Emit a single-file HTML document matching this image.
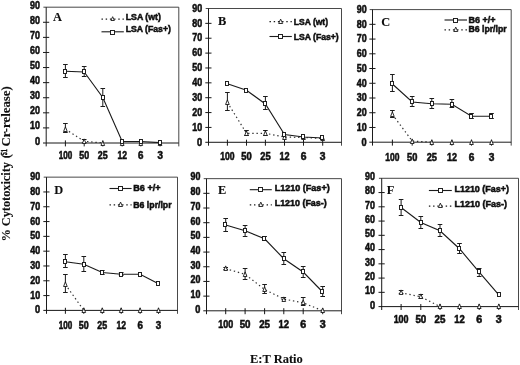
<!DOCTYPE html>
<html><head><meta charset="utf-8"><title>Cytotoxicity</title>
<style>
html,body{margin:0;padding:0;background:#fff;}
body{width:520px;height:365px;overflow:hidden;font-family:"Liberation Sans",sans-serif;}
svg{display:block;will-change:transform;}
text{fill:#111;stroke:#111;stroke-width:0.55px;}
text.sf{stroke-width:0.1px;}
</style></head><body>
<svg width="520" height="365" viewBox="0 0 520 365">
<defs><filter id="soft" x="0" y="0" width="100%" height="100%"><feGaussianBlur stdDeviation="0.35"/></filter></defs>
<rect width="520" height="365" fill="#fff"/>
<g filter="url(#soft)">
<g stroke="#1a1a1a" stroke-width="1.0" fill="none">
<path d="M43.4 7.2 H178.8 V146.4" stroke="#333" stroke-width="0.9"/>
<line x1="46.2" y1="7.2" x2="46.2" y2="146.4" />
<line x1="43" y1="127.91" x2="49.2" y2="127.91" />
<line x1="43" y1="112.82" x2="49.2" y2="112.82" />
<line x1="43" y1="97.73" x2="49.2" y2="97.73" />
<line x1="43" y1="82.64" x2="49.2" y2="82.64" />
<line x1="43" y1="67.56" x2="49.2" y2="67.56" />
<line x1="43" y1="52.47" x2="49.2" y2="52.47" />
<line x1="43" y1="37.38" x2="49.2" y2="37.38" />
<line x1="43" y1="22.29" x2="49.2" y2="22.29" />
<line x1="65.4" y1="140.4" x2="65.4" y2="146.4" />
<line x1="84.2" y1="140.4" x2="84.2" y2="146.4" />
<line x1="102.8" y1="140.4" x2="102.8" y2="146.4" />
<line x1="122.2" y1="140.4" x2="122.2" y2="146.4" />
<line x1="140.8" y1="140.4" x2="140.8" y2="146.4" />
<line x1="160.1" y1="140.4" x2="160.1" y2="146.4" />
</g>
<text x="34.9" y="144.5" font-family="'Liberation Sans', sans-serif" font-size="10" font-weight="bold" text-anchor="start" textLength="5.1" lengthAdjust="spacingAndGlyphs" >0</text>
<text x="30.1" y="129.41" font-family="'Liberation Sans', sans-serif" font-size="10" font-weight="bold" text-anchor="start" textLength="9.9" lengthAdjust="spacingAndGlyphs" >10</text>
<text x="30.1" y="114.32" font-family="'Liberation Sans', sans-serif" font-size="10" font-weight="bold" text-anchor="start" textLength="9.9" lengthAdjust="spacingAndGlyphs" >20</text>
<text x="30.1" y="99.23" font-family="'Liberation Sans', sans-serif" font-size="10" font-weight="bold" text-anchor="start" textLength="9.9" lengthAdjust="spacingAndGlyphs" >30</text>
<text x="30.1" y="84.14" font-family="'Liberation Sans', sans-serif" font-size="10" font-weight="bold" text-anchor="start" textLength="9.9" lengthAdjust="spacingAndGlyphs" >40</text>
<text x="30.1" y="69.06" font-family="'Liberation Sans', sans-serif" font-size="10" font-weight="bold" text-anchor="start" textLength="9.9" lengthAdjust="spacingAndGlyphs" >50</text>
<text x="30.1" y="53.97" font-family="'Liberation Sans', sans-serif" font-size="10" font-weight="bold" text-anchor="start" textLength="9.9" lengthAdjust="spacingAndGlyphs" >60</text>
<text x="30.1" y="38.88" font-family="'Liberation Sans', sans-serif" font-size="10" font-weight="bold" text-anchor="start" textLength="9.9" lengthAdjust="spacingAndGlyphs" >70</text>
<text x="30.1" y="23.79" font-family="'Liberation Sans', sans-serif" font-size="10" font-weight="bold" text-anchor="start" textLength="9.9" lengthAdjust="spacingAndGlyphs" >80</text>
<text x="30.1" y="8.7" font-family="'Liberation Sans', sans-serif" font-size="10" font-weight="bold" text-anchor="start" textLength="9.9" lengthAdjust="spacingAndGlyphs" >90</text>
<text x="58.65" y="159.3" font-family="'Liberation Sans', sans-serif" font-size="10" font-weight="bold" text-anchor="start" textLength="13.5" lengthAdjust="spacingAndGlyphs" >100</text>
<text x="79.27" y="159.3" font-family="'Liberation Sans', sans-serif" font-size="10" font-weight="bold" text-anchor="start" textLength="9.85" lengthAdjust="spacingAndGlyphs" >50</text>
<text x="97.87" y="159.3" font-family="'Liberation Sans', sans-serif" font-size="10" font-weight="bold" text-anchor="start" textLength="9.85" lengthAdjust="spacingAndGlyphs" >25</text>
<text x="117.41" y="159.3" font-family="'Liberation Sans', sans-serif" font-size="10" font-weight="bold" text-anchor="start" textLength="9.59" lengthAdjust="spacingAndGlyphs" >12</text>
<text x="138.09" y="159.3" font-family="'Liberation Sans', sans-serif" font-size="10" font-weight="bold" text-anchor="start" textLength="5.42" lengthAdjust="spacingAndGlyphs" >6</text>
<text x="157.39" y="159.3" font-family="'Liberation Sans', sans-serif" font-size="10" font-weight="bold" text-anchor="start" textLength="5.42" lengthAdjust="spacingAndGlyphs" >3</text>
<text x="53" y="20.8" font-family="'Liberation Serif', sans-serif" font-size="12.4" font-weight="bold" text-anchor="start" class="sf">A</text>
<clipPath id="cpA"><rect x="46.2" y="7.2" width="132.6" height="136.3"/></clipPath>
<polyline points="65.4,129.1 84.2,141.2 102.8,143" fill="none" stroke="#333" stroke-width="1.2" stroke-dasharray="1.4 2.8" clip-path="url(#cpA)"/>
<polyline points="65.4,71.25 84.2,72 102.8,97.5 122.2,141.5 140.8,141.5 160.1,142.6" fill="none" stroke="#1a1a1a" stroke-width="1.1"/>
<line x1="43" y1="143" x2="178.8" y2="143" stroke="#1a1a1a" stroke-width="1.0"/>
<g stroke="#1a1a1a" stroke-width="1">
<line x1="65.4" y1="123.5" x2="65.4" y2="132.5" />
<line x1="63.1" y1="123.5" x2="67.7" y2="123.5" />
<line x1="63.1" y1="132.5" x2="67.7" y2="132.5" />
<line x1="84.2" y1="139.5" x2="84.2" y2="142.5" />
<line x1="81.9" y1="139.5" x2="86.5" y2="139.5" />
<line x1="81.9" y1="142.5" x2="86.5" y2="142.5" />
<line x1="65.4" y1="64.5" x2="65.4" y2="77.5" />
<line x1="63.1" y1="64.5" x2="67.7" y2="64.5" />
<line x1="63.1" y1="77.5" x2="67.7" y2="77.5" />
<line x1="84.2" y1="66.5" x2="84.2" y2="76.5" />
<line x1="81.9" y1="66.5" x2="86.5" y2="66.5" />
<line x1="81.9" y1="76.5" x2="86.5" y2="76.5" />
<line x1="102.8" y1="88.5" x2="102.8" y2="106.5" />
<line x1="100.5" y1="88.5" x2="105.1" y2="88.5" />
<line x1="100.5" y1="106.5" x2="105.1" y2="106.5" />
</g>
<path d="M65.4 126.9 L67.24 131.5 L63.56 131.5 Z" fill="#fff" stroke="#1a1a1a" stroke-width="0.9"/>
<path d="M84.2 138.9 L86.04 143.5 L82.36 143.5 Z" fill="#fff" stroke="#1a1a1a" stroke-width="0.9"/>
<path d="M102.8 140.9 L104.64 145.5 L100.96 145.5 Z" fill="#fff" stroke="#1a1a1a" stroke-width="0.9"/>
<path d="M122.2 140.9 L124.04 145.5 L120.36 145.5 Z" fill="#fff" stroke="#1a1a1a" stroke-width="0.9"/>
<path d="M140.8 140.9 L142.64 145.5 L138.96 145.5 Z" fill="#fff" stroke="#1a1a1a" stroke-width="0.9"/>
<path d="M160.1 140.9 L161.94 145.5 L158.26 145.5 Z" fill="#fff" stroke="#1a1a1a" stroke-width="0.9"/>
<rect x="63.5" y="69.5" width="3" height="4" fill="#fff" stroke="#1a1a1a" stroke-width="0.95"/>
<rect x="82.5" y="69.5" width="3" height="4" fill="#fff" stroke="#1a1a1a" stroke-width="0.95"/>
<rect x="101.5" y="95.5" width="3" height="4" fill="#fff" stroke="#1a1a1a" stroke-width="0.95"/>
<rect x="120.5" y="139.5" width="3" height="4" fill="#fff" stroke="#1a1a1a" stroke-width="0.95"/>
<rect x="139.5" y="139.5" width="3" height="4" fill="#fff" stroke="#1a1a1a" stroke-width="0.95"/>
<rect x="158.5" y="140.5" width="3" height="4" fill="#fff" stroke="#1a1a1a" stroke-width="0.95"/>
<line x1="101.5" y1="19.1" x2="123.8" y2="19.1" stroke="#1a1a1a" stroke-width="1.2" stroke-dasharray="1.4 2.8"/>
<path d="M112.65 16.7 L114.35 20.5 L110.95 20.5 Z" fill="#fff" stroke="#1a1a1a" stroke-width="0.9"/>
<text x="125.7" y="19.9" font-family="'Liberation Sans', sans-serif" font-size="9.4" font-weight="bold" text-anchor="start" textLength="35.2" lengthAdjust="spacingAndGlyphs" >LSA (wt)</text>
<line x1="101.5" y1="31.8" x2="123.8" y2="31.8" stroke="#1a1a1a" stroke-width="1.1"/>
<rect x="110.5" y="30.5" width="4" height="4" fill="#fff" stroke="#1a1a1a" stroke-width="0.95"/>
<text x="125.7" y="32.3" font-family="'Liberation Sans', sans-serif" font-size="9.4" font-weight="bold" text-anchor="start" textLength="45.2" lengthAdjust="spacingAndGlyphs" >LSA (Fas+)</text>
<g stroke="#1a1a1a" stroke-width="1.0" fill="none">
<path d="M205.7 8.5 H341.5 V145.7" stroke="#333" stroke-width="0.9"/>
<line x1="208.5" y1="8.5" x2="208.5" y2="145.7" />
<line x1="205.3" y1="127.43" x2="211.5" y2="127.43" />
<line x1="205.3" y1="112.57" x2="211.5" y2="112.57" />
<line x1="205.3" y1="97.7" x2="211.5" y2="97.7" />
<line x1="205.3" y1="82.83" x2="211.5" y2="82.83" />
<line x1="205.3" y1="67.97" x2="211.5" y2="67.97" />
<line x1="205.3" y1="53.1" x2="211.5" y2="53.1" />
<line x1="205.3" y1="38.23" x2="211.5" y2="38.23" />
<line x1="205.3" y1="23.37" x2="211.5" y2="23.37" />
<line x1="227.4" y1="139.7" x2="227.4" y2="145.7" />
<line x1="246.5" y1="139.7" x2="246.5" y2="145.7" />
<line x1="265.4" y1="139.7" x2="265.4" y2="145.7" />
<line x1="284.5" y1="139.7" x2="284.5" y2="145.7" />
<line x1="303.5" y1="139.7" x2="303.5" y2="145.7" />
<line x1="322.7" y1="139.7" x2="322.7" y2="145.7" />
</g>
<text x="197.1" y="145.5" font-family="'Liberation Sans', sans-serif" font-size="10" font-weight="bold" text-anchor="start" textLength="5.1" lengthAdjust="spacingAndGlyphs" >0</text>
<text x="192.3" y="130.63" font-family="'Liberation Sans', sans-serif" font-size="10" font-weight="bold" text-anchor="start" textLength="9.9" lengthAdjust="spacingAndGlyphs" >10</text>
<text x="192.3" y="115.77" font-family="'Liberation Sans', sans-serif" font-size="10" font-weight="bold" text-anchor="start" textLength="9.9" lengthAdjust="spacingAndGlyphs" >20</text>
<text x="192.3" y="100.9" font-family="'Liberation Sans', sans-serif" font-size="10" font-weight="bold" text-anchor="start" textLength="9.9" lengthAdjust="spacingAndGlyphs" >30</text>
<text x="192.3" y="86.03" font-family="'Liberation Sans', sans-serif" font-size="10" font-weight="bold" text-anchor="start" textLength="9.9" lengthAdjust="spacingAndGlyphs" >40</text>
<text x="192.3" y="71.17" font-family="'Liberation Sans', sans-serif" font-size="10" font-weight="bold" text-anchor="start" textLength="9.9" lengthAdjust="spacingAndGlyphs" >50</text>
<text x="192.3" y="56.3" font-family="'Liberation Sans', sans-serif" font-size="10" font-weight="bold" text-anchor="start" textLength="9.9" lengthAdjust="spacingAndGlyphs" >60</text>
<text x="192.3" y="41.43" font-family="'Liberation Sans', sans-serif" font-size="10" font-weight="bold" text-anchor="start" textLength="9.9" lengthAdjust="spacingAndGlyphs" >70</text>
<text x="192.3" y="26.57" font-family="'Liberation Sans', sans-serif" font-size="10" font-weight="bold" text-anchor="start" textLength="9.9" lengthAdjust="spacingAndGlyphs" >80</text>
<text x="192.3" y="11.7" font-family="'Liberation Sans', sans-serif" font-size="10" font-weight="bold" text-anchor="start" textLength="9.9" lengthAdjust="spacingAndGlyphs" >90</text>
<text x="220.25" y="160.3" font-family="'Liberation Sans', sans-serif" font-size="10" font-weight="bold" text-anchor="start" textLength="14.3" lengthAdjust="spacingAndGlyphs" >100</text>
<text x="241.29" y="160.3" font-family="'Liberation Sans', sans-serif" font-size="10" font-weight="bold" text-anchor="start" textLength="10.42" lengthAdjust="spacingAndGlyphs" >50</text>
<text x="260.19" y="160.3" font-family="'Liberation Sans', sans-serif" font-size="10" font-weight="bold" text-anchor="start" textLength="10.42" lengthAdjust="spacingAndGlyphs" >25</text>
<text x="279.43" y="160.3" font-family="'Liberation Sans', sans-serif" font-size="10" font-weight="bold" text-anchor="start" textLength="10.14" lengthAdjust="spacingAndGlyphs" >12</text>
<text x="300.65" y="160.3" font-family="'Liberation Sans', sans-serif" font-size="10" font-weight="bold" text-anchor="start" textLength="5.71" lengthAdjust="spacingAndGlyphs" >6</text>
<text x="319.85" y="160.3" font-family="'Liberation Sans', sans-serif" font-size="10" font-weight="bold" text-anchor="start" textLength="5.71" lengthAdjust="spacingAndGlyphs" >3</text>
<text x="218" y="25.1" font-family="'Liberation Serif', sans-serif" font-size="12.4" font-weight="bold" text-anchor="start" class="sf">B</text>
<clipPath id="cpB"><rect x="208.5" y="8.5" width="133" height="134.3"/></clipPath>
<polyline points="227.4,102.5 246.5,133.3 265.4,133.3 284.5,137 303.5,137.5 322.7,138.5" fill="none" stroke="#333" stroke-width="1.2" stroke-dasharray="1.4 2.8" clip-path="url(#cpB)"/>
<polyline points="227.4,83.75 246.5,90.25 265.4,104 284.5,134.5 303.5,137 322.7,138" fill="none" stroke="#1a1a1a" stroke-width="1.1"/>
<line x1="205.3" y1="142.3" x2="341.5" y2="142.3" stroke="#1a1a1a" stroke-width="1.0"/>
<g stroke="#1a1a1a" stroke-width="1">
<line x1="227.4" y1="92.5" x2="227.4" y2="110.5" />
<line x1="225.1" y1="92.5" x2="229.7" y2="92.5" />
<line x1="225.1" y1="110.5" x2="229.7" y2="110.5" />
<line x1="246.5" y1="130.5" x2="246.5" y2="135.5" />
<line x1="244.2" y1="130.5" x2="248.8" y2="130.5" />
<line x1="244.2" y1="135.5" x2="248.8" y2="135.5" />
<line x1="265.4" y1="130.5" x2="265.4" y2="135.5" />
<line x1="263.1" y1="130.5" x2="267.7" y2="130.5" />
<line x1="263.1" y1="135.5" x2="267.7" y2="135.5" />
<line x1="265.4" y1="96.5" x2="265.4" y2="109.5" />
<line x1="263.1" y1="96.5" x2="267.7" y2="96.5" />
<line x1="263.1" y1="109.5" x2="267.7" y2="109.5" />
</g>
<path d="M227.4 99.9 L229.24 104.5 L225.56 104.5 Z" fill="#fff" stroke="#1a1a1a" stroke-width="0.9"/>
<path d="M246.5 130.9 L248.34 135.5 L244.66 135.5 Z" fill="#fff" stroke="#1a1a1a" stroke-width="0.9"/>
<path d="M265.4 130.9 L267.24 135.5 L263.56 135.5 Z" fill="#fff" stroke="#1a1a1a" stroke-width="0.9"/>
<path d="M284.5 134.9 L286.34 139.5 L282.66 139.5 Z" fill="#fff" stroke="#1a1a1a" stroke-width="0.9"/>
<path d="M303.5 134.9 L305.34 139.5 L301.66 139.5 Z" fill="#fff" stroke="#1a1a1a" stroke-width="0.9"/>
<path d="M322.7 135.9 L324.54 140.5 L320.86 140.5 Z" fill="#fff" stroke="#1a1a1a" stroke-width="0.9"/>
<rect x="225.5" y="81.5" width="3" height="4" fill="#fff" stroke="#1a1a1a" stroke-width="0.95"/>
<rect x="244.5" y="88.5" width="3" height="4" fill="#fff" stroke="#1a1a1a" stroke-width="0.95"/>
<rect x="263.5" y="101.5" width="3" height="4" fill="#fff" stroke="#1a1a1a" stroke-width="0.95"/>
<rect x="282.5" y="132.5" width="3" height="4" fill="#fff" stroke="#1a1a1a" stroke-width="0.95"/>
<rect x="301.5" y="134.5" width="3" height="4" fill="#fff" stroke="#1a1a1a" stroke-width="0.95"/>
<rect x="320.5" y="135.5" width="3" height="4" fill="#fff" stroke="#1a1a1a" stroke-width="0.95"/>
<line x1="269.5" y1="21.7" x2="291.8" y2="21.7" stroke="#1a1a1a" stroke-width="1.2" stroke-dasharray="1.4 2.8"/>
<path d="M280.65 19.1 L282.65 23.5 L278.65 23.5 Z" fill="#fff" stroke="#1a1a1a" stroke-width="0.9"/>
<text x="293.75" y="24.8" font-family="'Liberation Sans', sans-serif" font-size="9.4" font-weight="bold" text-anchor="start" textLength="34.3" lengthAdjust="spacingAndGlyphs" >LSA (wt)</text>
<line x1="269.5" y1="36.5" x2="291.8" y2="36.5" stroke="#1a1a1a" stroke-width="1.1"/>
<rect x="278.5" y="34.5" width="4" height="4" fill="#fff" stroke="#1a1a1a" stroke-width="0.95"/>
<text x="293.75" y="39.8" font-family="'Liberation Sans', sans-serif" font-size="9.4" font-weight="bold" text-anchor="start" textLength="45" lengthAdjust="spacingAndGlyphs" >LSA (Fas+)</text>
<g stroke="#1a1a1a" stroke-width="1.0" fill="none">
<path d="M369.7 9.6 H511.2 V145.6" stroke="#333" stroke-width="0.9"/>
<line x1="372.5" y1="9.6" x2="372.5" y2="145.6" />
<line x1="369.3" y1="127.47" x2="375.5" y2="127.47" />
<line x1="369.3" y1="112.73" x2="375.5" y2="112.73" />
<line x1="369.3" y1="98" x2="375.5" y2="98" />
<line x1="369.3" y1="83.27" x2="375.5" y2="83.27" />
<line x1="369.3" y1="68.53" x2="375.5" y2="68.53" />
<line x1="369.3" y1="53.8" x2="375.5" y2="53.8" />
<line x1="369.3" y1="39.07" x2="375.5" y2="39.07" />
<line x1="369.3" y1="24.33" x2="375.5" y2="24.33" />
<line x1="392.4" y1="139.6" x2="392.4" y2="145.6" />
<line x1="412.2" y1="139.6" x2="412.2" y2="145.6" />
<line x1="431.8" y1="139.6" x2="431.8" y2="145.6" />
<line x1="451.9" y1="139.6" x2="451.9" y2="145.6" />
<line x1="471.5" y1="139.6" x2="471.5" y2="145.6" />
<line x1="491.5" y1="139.6" x2="491.5" y2="145.6" />
</g>
<text x="361.5" y="145.6" font-family="'Liberation Sans', sans-serif" font-size="10" font-weight="bold" text-anchor="start" textLength="5.1" lengthAdjust="spacingAndGlyphs" >0</text>
<text x="356.7" y="130.87" font-family="'Liberation Sans', sans-serif" font-size="10" font-weight="bold" text-anchor="start" textLength="9.9" lengthAdjust="spacingAndGlyphs" >10</text>
<text x="356.7" y="116.13" font-family="'Liberation Sans', sans-serif" font-size="10" font-weight="bold" text-anchor="start" textLength="9.9" lengthAdjust="spacingAndGlyphs" >20</text>
<text x="356.7" y="101.4" font-family="'Liberation Sans', sans-serif" font-size="10" font-weight="bold" text-anchor="start" textLength="9.9" lengthAdjust="spacingAndGlyphs" >30</text>
<text x="356.7" y="86.67" font-family="'Liberation Sans', sans-serif" font-size="10" font-weight="bold" text-anchor="start" textLength="9.9" lengthAdjust="spacingAndGlyphs" >40</text>
<text x="356.7" y="71.93" font-family="'Liberation Sans', sans-serif" font-size="10" font-weight="bold" text-anchor="start" textLength="9.9" lengthAdjust="spacingAndGlyphs" >50</text>
<text x="356.7" y="57.2" font-family="'Liberation Sans', sans-serif" font-size="10" font-weight="bold" text-anchor="start" textLength="9.9" lengthAdjust="spacingAndGlyphs" >60</text>
<text x="356.7" y="42.47" font-family="'Liberation Sans', sans-serif" font-size="10" font-weight="bold" text-anchor="start" textLength="9.9" lengthAdjust="spacingAndGlyphs" >70</text>
<text x="356.7" y="27.73" font-family="'Liberation Sans', sans-serif" font-size="10" font-weight="bold" text-anchor="start" textLength="9.9" lengthAdjust="spacingAndGlyphs" >80</text>
<text x="356.7" y="13" font-family="'Liberation Sans', sans-serif" font-size="10" font-weight="bold" text-anchor="start" textLength="9.9" lengthAdjust="spacingAndGlyphs" >90</text>
<text x="385.35" y="160.6" font-family="'Liberation Sans', sans-serif" font-size="10" font-weight="bold" text-anchor="start" textLength="14.1" lengthAdjust="spacingAndGlyphs" >100</text>
<text x="407.06" y="160.6" font-family="'Liberation Sans', sans-serif" font-size="10" font-weight="bold" text-anchor="start" textLength="10.28" lengthAdjust="spacingAndGlyphs" >50</text>
<text x="426.66" y="160.6" font-family="'Liberation Sans', sans-serif" font-size="10" font-weight="bold" text-anchor="start" textLength="10.28" lengthAdjust="spacingAndGlyphs" >25</text>
<text x="446.9" y="160.6" font-family="'Liberation Sans', sans-serif" font-size="10" font-weight="bold" text-anchor="start" textLength="10" lengthAdjust="spacingAndGlyphs" >12</text>
<text x="468.68" y="160.6" font-family="'Liberation Sans', sans-serif" font-size="10" font-weight="bold" text-anchor="start" textLength="5.63" lengthAdjust="spacingAndGlyphs" >6</text>
<text x="488.68" y="160.6" font-family="'Liberation Sans', sans-serif" font-size="10" font-weight="bold" text-anchor="start" textLength="5.63" lengthAdjust="spacingAndGlyphs" >3</text>
<text x="381.3" y="25.7" font-family="'Liberation Serif', sans-serif" font-size="12.4" font-weight="bold" text-anchor="start" class="sf">C</text>
<clipPath id="cpC"><rect x="372.5" y="9.6" width="138.7" height="133.1"/></clipPath>
<polyline points="392.4,114.5 412.2,141 431.8,142.2" fill="none" stroke="#333" stroke-width="1.2" stroke-dasharray="1.4 2.8" clip-path="url(#cpC)"/>
<polyline points="392.4,84 412.2,102 431.8,103.75 451.9,104.25 471.5,116.3 491.5,116.3" fill="none" stroke="#1a1a1a" stroke-width="1.1"/>
<line x1="369.3" y1="142.2" x2="511.2" y2="142.2" stroke="#1a1a1a" stroke-width="1.0"/>
<g stroke="#1a1a1a" stroke-width="1">
<line x1="392.4" y1="110.5" x2="392.4" y2="117.5" />
<line x1="390.1" y1="110.5" x2="394.7" y2="110.5" />
<line x1="390.1" y1="117.5" x2="394.7" y2="117.5" />
<line x1="392.4" y1="74.5" x2="392.4" y2="91.5" />
<line x1="390.1" y1="74.5" x2="394.7" y2="74.5" />
<line x1="390.1" y1="91.5" x2="394.7" y2="91.5" />
<line x1="412.2" y1="96.5" x2="412.2" y2="106.5" />
<line x1="409.9" y1="96.5" x2="414.5" y2="96.5" />
<line x1="409.9" y1="106.5" x2="414.5" y2="106.5" />
<line x1="431.8" y1="98.5" x2="431.8" y2="108.5" />
<line x1="429.5" y1="98.5" x2="434.1" y2="98.5" />
<line x1="429.5" y1="108.5" x2="434.1" y2="108.5" />
<line x1="451.9" y1="99.5" x2="451.9" y2="107.5" />
<line x1="449.6" y1="99.5" x2="454.2" y2="99.5" />
<line x1="449.6" y1="107.5" x2="454.2" y2="107.5" />
<line x1="471.5" y1="113.5" x2="471.5" y2="118.5" />
<line x1="469.2" y1="113.5" x2="473.8" y2="113.5" />
<line x1="469.2" y1="118.5" x2="473.8" y2="118.5" />
<line x1="491.5" y1="113.5" x2="491.5" y2="118.5" />
<line x1="489.2" y1="113.5" x2="493.8" y2="113.5" />
<line x1="489.2" y1="118.5" x2="493.8" y2="118.5" />
</g>
<path d="M392.4 111.9 L394.24 116.5 L390.56 116.5 Z" fill="#fff" stroke="#1a1a1a" stroke-width="0.9"/>
<path d="M412.2 138.9 L414.04 143.5 L410.36 143.5 Z" fill="#fff" stroke="#1a1a1a" stroke-width="0.9"/>
<path d="M431.8 139.9 L433.64 144.5 L429.96 144.5 Z" fill="#fff" stroke="#1a1a1a" stroke-width="0.9"/>
<path d="M451.9 139.9 L453.74 144.5 L450.06 144.5 Z" fill="#fff" stroke="#1a1a1a" stroke-width="0.9"/>
<path d="M471.5 139.9 L473.34 144.5 L469.66 144.5 Z" fill="#fff" stroke="#1a1a1a" stroke-width="0.9"/>
<path d="M491.5 139.9 L493.34 144.5 L489.66 144.5 Z" fill="#fff" stroke="#1a1a1a" stroke-width="0.9"/>
<rect x="390.5" y="81.5" width="3" height="4" fill="#fff" stroke="#1a1a1a" stroke-width="0.95"/>
<rect x="410.5" y="99.5" width="3" height="4" fill="#fff" stroke="#1a1a1a" stroke-width="0.95"/>
<rect x="430.5" y="101.5" width="3" height="4" fill="#fff" stroke="#1a1a1a" stroke-width="0.95"/>
<rect x="450.5" y="102.5" width="3" height="4" fill="#fff" stroke="#1a1a1a" stroke-width="0.95"/>
<rect x="469.5" y="114.5" width="3" height="4" fill="#fff" stroke="#1a1a1a" stroke-width="0.95"/>
<rect x="489.5" y="114.5" width="3" height="4" fill="#fff" stroke="#1a1a1a" stroke-width="0.95"/>
<line x1="444.5" y1="20" x2="467" y2="20" stroke="#1a1a1a" stroke-width="1.1"/>
<rect x="453.5" y="18.5" width="4" height="4" fill="#fff" stroke="#1a1a1a" stroke-width="0.95"/>
<text x="468.4" y="23.1" font-family="'Liberation Sans', sans-serif" font-size="9.4" font-weight="bold" text-anchor="start" textLength="27" lengthAdjust="spacingAndGlyphs" >B6 +/+</text>
<line x1="444.5" y1="29.8" x2="467" y2="29.8" stroke="#1a1a1a" stroke-width="1.2" stroke-dasharray="1.4 2.8"/>
<path d="M455.75 27.1 L457.75 31.5 L453.75 31.5 Z" fill="#fff" stroke="#1a1a1a" stroke-width="0.9"/>
<text x="468.4" y="32.2" font-family="'Liberation Sans', sans-serif" font-size="9.4" font-weight="bold" text-anchor="start" textLength="38.3" lengthAdjust="spacingAndGlyphs" >B6 lpr/lpr</text>
<g stroke="#1a1a1a" stroke-width="1.0" fill="none">
<path d="M43.7 177.15 H177.5 V313.8" stroke="#333" stroke-width="0.9"/>
<line x1="46.5" y1="177.15" x2="46.5" y2="313.8" />
<line x1="43.3" y1="295.59" x2="49.5" y2="295.59" />
<line x1="43.3" y1="280.79" x2="49.5" y2="280.79" />
<line x1="43.3" y1="265.98" x2="49.5" y2="265.98" />
<line x1="43.3" y1="251.18" x2="49.5" y2="251.18" />
<line x1="43.3" y1="236.37" x2="49.5" y2="236.37" />
<line x1="43.3" y1="221.57" x2="49.5" y2="221.57" />
<line x1="43.3" y1="206.76" x2="49.5" y2="206.76" />
<line x1="43.3" y1="191.96" x2="49.5" y2="191.96" />
<line x1="65.4" y1="307.8" x2="65.4" y2="313.8" />
<line x1="83.8" y1="307.8" x2="83.8" y2="313.8" />
<line x1="102.3" y1="307.8" x2="102.3" y2="313.8" />
<line x1="121.2" y1="307.8" x2="121.2" y2="313.8" />
<line x1="140.1" y1="307.8" x2="140.1" y2="313.8" />
<line x1="158.5" y1="307.8" x2="158.5" y2="313.8" />
</g>
<text x="35.1" y="313.4" font-family="'Liberation Sans', sans-serif" font-size="10" font-weight="bold" text-anchor="start" textLength="5.1" lengthAdjust="spacingAndGlyphs" >0</text>
<text x="30.3" y="298.59" font-family="'Liberation Sans', sans-serif" font-size="10" font-weight="bold" text-anchor="start" textLength="9.9" lengthAdjust="spacingAndGlyphs" >10</text>
<text x="30.3" y="283.79" font-family="'Liberation Sans', sans-serif" font-size="10" font-weight="bold" text-anchor="start" textLength="9.9" lengthAdjust="spacingAndGlyphs" >20</text>
<text x="30.3" y="268.98" font-family="'Liberation Sans', sans-serif" font-size="10" font-weight="bold" text-anchor="start" textLength="9.9" lengthAdjust="spacingAndGlyphs" >30</text>
<text x="30.3" y="254.18" font-family="'Liberation Sans', sans-serif" font-size="10" font-weight="bold" text-anchor="start" textLength="9.9" lengthAdjust="spacingAndGlyphs" >40</text>
<text x="30.3" y="239.37" font-family="'Liberation Sans', sans-serif" font-size="10" font-weight="bold" text-anchor="start" textLength="9.9" lengthAdjust="spacingAndGlyphs" >50</text>
<text x="30.3" y="224.57" font-family="'Liberation Sans', sans-serif" font-size="10" font-weight="bold" text-anchor="start" textLength="9.9" lengthAdjust="spacingAndGlyphs" >60</text>
<text x="30.3" y="209.76" font-family="'Liberation Sans', sans-serif" font-size="10" font-weight="bold" text-anchor="start" textLength="9.9" lengthAdjust="spacingAndGlyphs" >70</text>
<text x="30.3" y="194.96" font-family="'Liberation Sans', sans-serif" font-size="10" font-weight="bold" text-anchor="start" textLength="9.9" lengthAdjust="spacingAndGlyphs" >80</text>
<text x="30.3" y="180.15" font-family="'Liberation Sans', sans-serif" font-size="10" font-weight="bold" text-anchor="start" textLength="9.9" lengthAdjust="spacingAndGlyphs" >90</text>
<text x="58.65" y="328.6" font-family="'Liberation Sans', sans-serif" font-size="10" font-weight="bold" text-anchor="start" textLength="13.5" lengthAdjust="spacingAndGlyphs" >100</text>
<text x="78.87" y="328.6" font-family="'Liberation Sans', sans-serif" font-size="10" font-weight="bold" text-anchor="start" textLength="9.85" lengthAdjust="spacingAndGlyphs" >50</text>
<text x="97.37" y="328.6" font-family="'Liberation Sans', sans-serif" font-size="10" font-weight="bold" text-anchor="start" textLength="9.85" lengthAdjust="spacingAndGlyphs" >25</text>
<text x="116.41" y="328.6" font-family="'Liberation Sans', sans-serif" font-size="10" font-weight="bold" text-anchor="start" textLength="9.59" lengthAdjust="spacingAndGlyphs" >12</text>
<text x="137.39" y="328.6" font-family="'Liberation Sans', sans-serif" font-size="10" font-weight="bold" text-anchor="start" textLength="5.42" lengthAdjust="spacingAndGlyphs" >6</text>
<text x="155.79" y="328.6" font-family="'Liberation Sans', sans-serif" font-size="10" font-weight="bold" text-anchor="start" textLength="5.42" lengthAdjust="spacingAndGlyphs" >3</text>
<text x="54.2" y="194" font-family="'Liberation Serif', sans-serif" font-size="12.4" font-weight="bold" text-anchor="start" class="sf">D</text>
<clipPath id="cpD"><rect x="46.5" y="177.15" width="131" height="133.75"/></clipPath>
<polyline points="65.4,284.5 83.8,310.4" fill="none" stroke="#333" stroke-width="1.2" stroke-dasharray="1.4 2.8" clip-path="url(#cpD)"/>
<polyline points="65.4,261.75 83.8,264.25 102.3,272.5 121.2,274.25 140.1,274.25 158.5,283.75" fill="none" stroke="#1a1a1a" stroke-width="1.1"/>
<line x1="43.3" y1="310.4" x2="177.5" y2="310.4" stroke="#1a1a1a" stroke-width="1.0"/>
<g stroke="#1a1a1a" stroke-width="1">
<line x1="65.4" y1="274.5" x2="65.4" y2="292.5" />
<line x1="63.1" y1="274.5" x2="67.7" y2="274.5" />
<line x1="63.1" y1="292.5" x2="67.7" y2="292.5" />
<line x1="65.4" y1="254.5" x2="65.4" y2="267.5" />
<line x1="63.1" y1="254.5" x2="67.7" y2="254.5" />
<line x1="63.1" y1="267.5" x2="67.7" y2="267.5" />
<line x1="83.8" y1="256.5" x2="83.8" y2="271.5" />
<line x1="81.5" y1="256.5" x2="86.1" y2="256.5" />
<line x1="81.5" y1="271.5" x2="86.1" y2="271.5" />
<line x1="102.3" y1="270.5" x2="102.3" y2="274.5" />
<line x1="100" y1="270.5" x2="104.6" y2="270.5" />
<line x1="100" y1="274.5" x2="104.6" y2="274.5" />
<line x1="121.2" y1="272.5" x2="121.2" y2="275.5" />
<line x1="118.9" y1="272.5" x2="123.5" y2="272.5" />
<line x1="118.9" y1="275.5" x2="123.5" y2="275.5" />
</g>
<path d="M65.4 281.9 L67.24 286.5 L63.56 286.5 Z" fill="#fff" stroke="#1a1a1a" stroke-width="0.9"/>
<path d="M83.8 307.9 L85.64 312.5 L81.96 312.5 Z" fill="#fff" stroke="#1a1a1a" stroke-width="0.9"/>
<path d="M102.3 307.9 L104.14 312.5 L100.46 312.5 Z" fill="#fff" stroke="#1a1a1a" stroke-width="0.9"/>
<path d="M121.2 307.9 L123.04 312.5 L119.36 312.5 Z" fill="#fff" stroke="#1a1a1a" stroke-width="0.9"/>
<path d="M140.1 307.9 L141.94 312.5 L138.26 312.5 Z" fill="#fff" stroke="#1a1a1a" stroke-width="0.9"/>
<path d="M158.5 307.9 L160.34 312.5 L156.66 312.5 Z" fill="#fff" stroke="#1a1a1a" stroke-width="0.9"/>
<rect x="63.5" y="259.5" width="3" height="4" fill="#fff" stroke="#1a1a1a" stroke-width="0.95"/>
<rect x="82.5" y="262.5" width="3" height="4" fill="#fff" stroke="#1a1a1a" stroke-width="0.95"/>
<rect x="100.5" y="270.5" width="3" height="4" fill="#fff" stroke="#1a1a1a" stroke-width="0.95"/>
<rect x="119.5" y="272.5" width="3" height="4" fill="#fff" stroke="#1a1a1a" stroke-width="0.95"/>
<rect x="138.5" y="272.5" width="3" height="4" fill="#fff" stroke="#1a1a1a" stroke-width="0.95"/>
<rect x="156.5" y="281.5" width="3" height="4" fill="#fff" stroke="#1a1a1a" stroke-width="0.95"/>
<line x1="109.5" y1="188.5" x2="131.6" y2="188.5" stroke="#1a1a1a" stroke-width="1.1"/>
<rect x="118.5" y="186.5" width="4" height="4" fill="#fff" stroke="#1a1a1a" stroke-width="0.95"/>
<text x="133.3" y="191.3" font-family="'Liberation Sans', sans-serif" font-size="9.4" font-weight="bold" text-anchor="start" textLength="27.2" lengthAdjust="spacingAndGlyphs" >B6 +/+</text>
<line x1="109.5" y1="204.9" x2="131.6" y2="204.9" stroke="#1a1a1a" stroke-width="1.2" stroke-dasharray="1.4 2.8"/>
<path d="M120.55 202.1 L122.55 206.5 L118.55 206.5 Z" fill="#fff" stroke="#1a1a1a" stroke-width="0.9"/>
<text x="133.3" y="207.6" font-family="'Liberation Sans', sans-serif" font-size="9.4" font-weight="bold" text-anchor="start" textLength="38.3" lengthAdjust="spacingAndGlyphs" >B6 lpr/lpr</text>
<g stroke="#1a1a1a" stroke-width="1.0" fill="none">
<path d="M203.7 178.65 H341.5 V314.2" stroke="#333" stroke-width="0.9"/>
<line x1="206.5" y1="178.65" x2="206.5" y2="314.2" />
<line x1="203.3" y1="296.12" x2="209.5" y2="296.12" />
<line x1="203.3" y1="281.43" x2="209.5" y2="281.43" />
<line x1="203.3" y1="266.75" x2="209.5" y2="266.75" />
<line x1="203.3" y1="252.07" x2="209.5" y2="252.07" />
<line x1="203.3" y1="237.38" x2="209.5" y2="237.38" />
<line x1="203.3" y1="222.7" x2="209.5" y2="222.7" />
<line x1="203.3" y1="208.02" x2="209.5" y2="208.02" />
<line x1="203.3" y1="193.33" x2="209.5" y2="193.33" />
<line x1="225.7" y1="308.2" x2="225.7" y2="314.2" />
<line x1="245.1" y1="308.2" x2="245.1" y2="314.2" />
<line x1="264.6" y1="308.2" x2="264.6" y2="314.2" />
<line x1="283.8" y1="308.2" x2="283.8" y2="314.2" />
<line x1="303.2" y1="308.2" x2="303.2" y2="314.2" />
<line x1="322.7" y1="308.2" x2="322.7" y2="314.2" />
</g>
<text x="195.3" y="312.6" font-family="'Liberation Sans', sans-serif" font-size="10" font-weight="bold" text-anchor="start" textLength="5.1" lengthAdjust="spacingAndGlyphs" >0</text>
<text x="190.5" y="297.92" font-family="'Liberation Sans', sans-serif" font-size="10" font-weight="bold" text-anchor="start" textLength="9.9" lengthAdjust="spacingAndGlyphs" >10</text>
<text x="190.5" y="283.23" font-family="'Liberation Sans', sans-serif" font-size="10" font-weight="bold" text-anchor="start" textLength="9.9" lengthAdjust="spacingAndGlyphs" >20</text>
<text x="190.5" y="268.55" font-family="'Liberation Sans', sans-serif" font-size="10" font-weight="bold" text-anchor="start" textLength="9.9" lengthAdjust="spacingAndGlyphs" >30</text>
<text x="190.5" y="253.87" font-family="'Liberation Sans', sans-serif" font-size="10" font-weight="bold" text-anchor="start" textLength="9.9" lengthAdjust="spacingAndGlyphs" >40</text>
<text x="190.5" y="239.18" font-family="'Liberation Sans', sans-serif" font-size="10" font-weight="bold" text-anchor="start" textLength="9.9" lengthAdjust="spacingAndGlyphs" >50</text>
<text x="190.5" y="224.5" font-family="'Liberation Sans', sans-serif" font-size="10" font-weight="bold" text-anchor="start" textLength="9.9" lengthAdjust="spacingAndGlyphs" >60</text>
<text x="190.5" y="209.82" font-family="'Liberation Sans', sans-serif" font-size="10" font-weight="bold" text-anchor="start" textLength="9.9" lengthAdjust="spacingAndGlyphs" >70</text>
<text x="190.5" y="195.13" font-family="'Liberation Sans', sans-serif" font-size="10" font-weight="bold" text-anchor="start" textLength="9.9" lengthAdjust="spacingAndGlyphs" >80</text>
<text x="190.5" y="180.45" font-family="'Liberation Sans', sans-serif" font-size="10" font-weight="bold" text-anchor="start" textLength="9.9" lengthAdjust="spacingAndGlyphs" >90</text>
<text x="218.25" y="327.6" font-family="'Liberation Sans', sans-serif" font-size="10" font-weight="bold" text-anchor="start" textLength="14.9" lengthAdjust="spacingAndGlyphs" >100</text>
<text x="239.68" y="327.6" font-family="'Liberation Sans', sans-serif" font-size="10" font-weight="bold" text-anchor="start" textLength="10.84" lengthAdjust="spacingAndGlyphs" >50</text>
<text x="259.18" y="327.6" font-family="'Liberation Sans', sans-serif" font-size="10" font-weight="bold" text-anchor="start" textLength="10.84" lengthAdjust="spacingAndGlyphs" >25</text>
<text x="278.52" y="327.6" font-family="'Liberation Sans', sans-serif" font-size="10" font-weight="bold" text-anchor="start" textLength="10.56" lengthAdjust="spacingAndGlyphs" >12</text>
<text x="300.24" y="327.6" font-family="'Liberation Sans', sans-serif" font-size="10" font-weight="bold" text-anchor="start" textLength="5.92" lengthAdjust="spacingAndGlyphs" >6</text>
<text x="319.74" y="327.6" font-family="'Liberation Sans', sans-serif" font-size="10" font-weight="bold" text-anchor="start" textLength="5.92" lengthAdjust="spacingAndGlyphs" >3</text>
<text x="218" y="194.2" font-family="'Liberation Serif', sans-serif" font-size="12.4" font-weight="bold" text-anchor="start" class="sf">E</text>
<clipPath id="cpE"><rect x="206.5" y="178.65" width="135" height="132.65"/></clipPath>
<polyline points="225.7,268.75 245.1,274.25 264.6,289.5 283.8,299 303.2,302.8 322.7,310.8" fill="none" stroke="#333" stroke-width="1.2" stroke-dasharray="1.4 2.8" clip-path="url(#cpE)"/>
<polyline points="225.7,225 245.1,230.75 264.6,238.75 283.8,258.75 303.2,272 322.7,292" fill="none" stroke="#1a1a1a" stroke-width="1.1"/>
<line x1="203.3" y1="310.8" x2="341.5" y2="310.8" stroke="#1a1a1a" stroke-width="1.0"/>
<g stroke="#1a1a1a" stroke-width="1">
<line x1="225.7" y1="267.5" x2="225.7" y2="269.5" />
<line x1="223.4" y1="267.5" x2="228" y2="267.5" />
<line x1="223.4" y1="269.5" x2="228" y2="269.5" />
<line x1="245.1" y1="268.5" x2="245.1" y2="279.5" />
<line x1="242.8" y1="268.5" x2="247.4" y2="268.5" />
<line x1="242.8" y1="279.5" x2="247.4" y2="279.5" />
<line x1="264.6" y1="284.5" x2="264.6" y2="293.5" />
<line x1="262.3" y1="284.5" x2="266.9" y2="284.5" />
<line x1="262.3" y1="293.5" x2="266.9" y2="293.5" />
<line x1="283.8" y1="297.5" x2="283.8" y2="299.5" />
<line x1="281.5" y1="297.5" x2="286.1" y2="297.5" />
<line x1="281.5" y1="299.5" x2="286.1" y2="299.5" />
<line x1="303.2" y1="297.5" x2="303.2" y2="305.5" />
<line x1="300.9" y1="297.5" x2="305.5" y2="297.5" />
<line x1="300.9" y1="305.5" x2="305.5" y2="305.5" />
<line x1="225.7" y1="218.5" x2="225.7" y2="231.5" />
<line x1="223.4" y1="218.5" x2="228" y2="218.5" />
<line x1="223.4" y1="231.5" x2="228" y2="231.5" />
<line x1="245.1" y1="225.5" x2="245.1" y2="236.5" />
<line x1="242.8" y1="225.5" x2="247.4" y2="225.5" />
<line x1="242.8" y1="236.5" x2="247.4" y2="236.5" />
<line x1="264.6" y1="236.5" x2="264.6" y2="240.5" />
<line x1="262.3" y1="236.5" x2="266.9" y2="236.5" />
<line x1="262.3" y1="240.5" x2="266.9" y2="240.5" />
<line x1="283.8" y1="252.5" x2="283.8" y2="264.5" />
<line x1="281.5" y1="252.5" x2="286.1" y2="252.5" />
<line x1="281.5" y1="264.5" x2="286.1" y2="264.5" />
<line x1="303.2" y1="266.5" x2="303.2" y2="277.5" />
<line x1="300.9" y1="266.5" x2="305.5" y2="266.5" />
<line x1="300.9" y1="277.5" x2="305.5" y2="277.5" />
<line x1="322.7" y1="286.5" x2="322.7" y2="296.5" />
<line x1="320.4" y1="286.5" x2="325" y2="286.5" />
<line x1="320.4" y1="296.5" x2="325" y2="296.5" />
</g>
<path d="M225.7 265.9 L227.54 270.5 L223.86 270.5 Z" fill="#fff" stroke="#1a1a1a" stroke-width="0.9"/>
<path d="M245.1 271.9 L246.94 276.5 L243.26 276.5 Z" fill="#fff" stroke="#1a1a1a" stroke-width="0.9"/>
<path d="M264.6 286.9 L266.44 291.5 L262.76 291.5 Z" fill="#fff" stroke="#1a1a1a" stroke-width="0.9"/>
<path d="M283.8 296.9 L285.64 301.5 L281.96 301.5 Z" fill="#fff" stroke="#1a1a1a" stroke-width="0.9"/>
<path d="M303.2 299.9 L305.04 304.5 L301.36 304.5 Z" fill="#fff" stroke="#1a1a1a" stroke-width="0.9"/>
<path d="M322.7 307.9 L324.54 312.5 L320.86 312.5 Z" fill="#fff" stroke="#1a1a1a" stroke-width="0.9"/>
<rect x="223.5" y="222.5" width="3" height="4" fill="#fff" stroke="#1a1a1a" stroke-width="0.95"/>
<rect x="243.5" y="228.5" width="3" height="4" fill="#fff" stroke="#1a1a1a" stroke-width="0.95"/>
<rect x="262.5" y="236.5" width="3" height="4" fill="#fff" stroke="#1a1a1a" stroke-width="0.95"/>
<rect x="282.5" y="256.5" width="3" height="4" fill="#fff" stroke="#1a1a1a" stroke-width="0.95"/>
<rect x="301.5" y="269.5" width="3" height="4" fill="#fff" stroke="#1a1a1a" stroke-width="0.95"/>
<rect x="320.5" y="289.5" width="3" height="4" fill="#fff" stroke="#1a1a1a" stroke-width="0.95"/>
<line x1="249.8" y1="189.7" x2="271.8" y2="189.7" stroke="#1a1a1a" stroke-width="1.1"/>
<rect x="258.5" y="187.5" width="4" height="4" fill="#fff" stroke="#1a1a1a" stroke-width="0.95"/>
<text x="274.7" y="191.3" font-family="'Liberation Sans', sans-serif" font-size="9.4" font-weight="bold" text-anchor="start" textLength="55" lengthAdjust="spacingAndGlyphs" >L1210 (Fas+)</text>
<line x1="249.8" y1="204.9" x2="271.8" y2="204.9" stroke="#1a1a1a" stroke-width="1.2" stroke-dasharray="1.4 2.8"/>
<path d="M260.8 202.1 L262.8 206.5 L258.8 206.5 Z" fill="#fff" stroke="#1a1a1a" stroke-width="0.9"/>
<text x="274.7" y="206" font-family="'Liberation Sans', sans-serif" font-size="9.4" font-weight="bold" text-anchor="start" textLength="52" lengthAdjust="spacingAndGlyphs" >L1210 (Fas-)</text>
<g stroke="#1a1a1a" stroke-width="1.0" fill="none">
<path d="M378.9 178.3 H518.5 V310" stroke="#333" stroke-width="0.9"/>
<line x1="381.7" y1="178.3" x2="381.7" y2="310" />
<line x1="378.5" y1="292.34" x2="384.7" y2="292.34" />
<line x1="378.5" y1="278.09" x2="384.7" y2="278.09" />
<line x1="378.5" y1="263.83" x2="384.7" y2="263.83" />
<line x1="378.5" y1="249.58" x2="384.7" y2="249.58" />
<line x1="378.5" y1="235.32" x2="384.7" y2="235.32" />
<line x1="378.5" y1="221.07" x2="384.7" y2="221.07" />
<line x1="378.5" y1="206.81" x2="384.7" y2="206.81" />
<line x1="378.5" y1="192.56" x2="384.7" y2="192.56" />
<line x1="401.1" y1="304" x2="401.1" y2="310" />
<line x1="420.8" y1="304" x2="420.8" y2="310" />
<line x1="440" y1="304" x2="440" y2="310" />
<line x1="459.5" y1="304" x2="459.5" y2="310" />
<line x1="479.2" y1="304" x2="479.2" y2="310" />
<line x1="498.8" y1="304" x2="498.8" y2="310" />
</g>
<text x="369.9" y="308.5" font-family="'Liberation Sans', sans-serif" font-size="10" font-weight="bold" text-anchor="start" textLength="5.1" lengthAdjust="spacingAndGlyphs" >0</text>
<text x="365.1" y="294.24" font-family="'Liberation Sans', sans-serif" font-size="10" font-weight="bold" text-anchor="start" textLength="9.9" lengthAdjust="spacingAndGlyphs" >10</text>
<text x="365.1" y="279.99" font-family="'Liberation Sans', sans-serif" font-size="10" font-weight="bold" text-anchor="start" textLength="9.9" lengthAdjust="spacingAndGlyphs" >20</text>
<text x="365.1" y="265.73" font-family="'Liberation Sans', sans-serif" font-size="10" font-weight="bold" text-anchor="start" textLength="9.9" lengthAdjust="spacingAndGlyphs" >30</text>
<text x="365.1" y="251.48" font-family="'Liberation Sans', sans-serif" font-size="10" font-weight="bold" text-anchor="start" textLength="9.9" lengthAdjust="spacingAndGlyphs" >40</text>
<text x="365.1" y="237.22" font-family="'Liberation Sans', sans-serif" font-size="10" font-weight="bold" text-anchor="start" textLength="9.9" lengthAdjust="spacingAndGlyphs" >50</text>
<text x="365.1" y="222.97" font-family="'Liberation Sans', sans-serif" font-size="10" font-weight="bold" text-anchor="start" textLength="9.9" lengthAdjust="spacingAndGlyphs" >60</text>
<text x="365.1" y="208.71" font-family="'Liberation Sans', sans-serif" font-size="10" font-weight="bold" text-anchor="start" textLength="9.9" lengthAdjust="spacingAndGlyphs" >70</text>
<text x="365.1" y="194.46" font-family="'Liberation Sans', sans-serif" font-size="10" font-weight="bold" text-anchor="start" textLength="9.9" lengthAdjust="spacingAndGlyphs" >80</text>
<text x="365.1" y="180.2" font-family="'Liberation Sans', sans-serif" font-size="10" font-weight="bold" text-anchor="start" textLength="9.9" lengthAdjust="spacingAndGlyphs" >90</text>
<text x="393.65" y="323.2" font-family="'Liberation Sans', sans-serif" font-size="10" font-weight="bold" text-anchor="start" textLength="14.9" lengthAdjust="spacingAndGlyphs" >100</text>
<text x="415.38" y="323.2" font-family="'Liberation Sans', sans-serif" font-size="10" font-weight="bold" text-anchor="start" textLength="10.84" lengthAdjust="spacingAndGlyphs" >50</text>
<text x="434.58" y="323.2" font-family="'Liberation Sans', sans-serif" font-size="10" font-weight="bold" text-anchor="start" textLength="10.84" lengthAdjust="spacingAndGlyphs" >25</text>
<text x="454.22" y="323.2" font-family="'Liberation Sans', sans-serif" font-size="10" font-weight="bold" text-anchor="start" textLength="10.56" lengthAdjust="spacingAndGlyphs" >12</text>
<text x="476.24" y="323.2" font-family="'Liberation Sans', sans-serif" font-size="10" font-weight="bold" text-anchor="start" textLength="5.92" lengthAdjust="spacingAndGlyphs" >6</text>
<text x="495.84" y="323.2" font-family="'Liberation Sans', sans-serif" font-size="10" font-weight="bold" text-anchor="start" textLength="5.92" lengthAdjust="spacingAndGlyphs" >3</text>
<text x="386.8" y="194" font-family="'Liberation Serif', sans-serif" font-size="12.4" font-weight="bold" text-anchor="start" class="sf">F</text>
<clipPath id="cpF"><rect x="381.7" y="178.3" width="136.8" height="128.8"/></clipPath>
<polyline points="401.1,292.7 420.8,296.8 440,306.6" fill="none" stroke="#333" stroke-width="1.2" stroke-dasharray="1.4 2.8" clip-path="url(#cpF)"/>
<polyline points="401.1,207.5 420.8,222.5 440,230.75 459.5,248.75 479.2,272.1 498.8,294.8" fill="none" stroke="#1a1a1a" stroke-width="1.1"/>
<line x1="378.5" y1="306.6" x2="518.5" y2="306.6" stroke="#1a1a1a" stroke-width="1.0"/>
<g stroke="#1a1a1a" stroke-width="1">
<line x1="401.1" y1="290.5" x2="401.1" y2="293.5" />
<line x1="398.8" y1="290.5" x2="403.4" y2="290.5" />
<line x1="398.8" y1="293.5" x2="403.4" y2="293.5" />
<line x1="420.8" y1="294.5" x2="420.8" y2="298.5" />
<line x1="418.5" y1="294.5" x2="423.1" y2="294.5" />
<line x1="418.5" y1="298.5" x2="423.1" y2="298.5" />
<line x1="401.1" y1="199.5" x2="401.1" y2="215.5" />
<line x1="398.8" y1="199.5" x2="403.4" y2="199.5" />
<line x1="398.8" y1="215.5" x2="403.4" y2="215.5" />
<line x1="420.8" y1="216.5" x2="420.8" y2="228.5" />
<line x1="418.5" y1="216.5" x2="423.1" y2="216.5" />
<line x1="418.5" y1="228.5" x2="423.1" y2="228.5" />
<line x1="440" y1="224.5" x2="440" y2="236.5" />
<line x1="437.7" y1="224.5" x2="442.3" y2="224.5" />
<line x1="437.7" y1="236.5" x2="442.3" y2="236.5" />
<line x1="459.5" y1="243.5" x2="459.5" y2="253.5" />
<line x1="457.2" y1="243.5" x2="461.8" y2="243.5" />
<line x1="457.2" y1="253.5" x2="461.8" y2="253.5" />
<line x1="479.2" y1="268.5" x2="479.2" y2="276.5" />
<line x1="476.9" y1="268.5" x2="481.5" y2="268.5" />
<line x1="476.9" y1="276.5" x2="481.5" y2="276.5" />
</g>
<path d="M401.1 289.9 L402.94 294.5 L399.26 294.5 Z" fill="#fff" stroke="#1a1a1a" stroke-width="0.9"/>
<path d="M420.8 293.9 L422.64 298.5 L418.96 298.5 Z" fill="#fff" stroke="#1a1a1a" stroke-width="0.9"/>
<path d="M440 303.9 L441.84 308.5 L438.16 308.5 Z" fill="#fff" stroke="#1a1a1a" stroke-width="0.9"/>
<path d="M459.5 303.9 L461.34 308.5 L457.66 308.5 Z" fill="#fff" stroke="#1a1a1a" stroke-width="0.9"/>
<path d="M479.2 303.9 L481.04 308.5 L477.36 308.5 Z" fill="#fff" stroke="#1a1a1a" stroke-width="0.9"/>
<path d="M498.8 303.9 L500.64 308.5 L496.96 308.5 Z" fill="#fff" stroke="#1a1a1a" stroke-width="0.9"/>
<rect x="399.5" y="205.5" width="3" height="4" fill="#fff" stroke="#1a1a1a" stroke-width="0.95"/>
<rect x="419.5" y="220.5" width="3" height="4" fill="#fff" stroke="#1a1a1a" stroke-width="0.95"/>
<rect x="438.5" y="228.5" width="3" height="4" fill="#fff" stroke="#1a1a1a" stroke-width="0.95"/>
<rect x="457.5" y="246.5" width="3" height="4" fill="#fff" stroke="#1a1a1a" stroke-width="0.95"/>
<rect x="477.5" y="269.5" width="3" height="4" fill="#fff" stroke="#1a1a1a" stroke-width="0.95"/>
<rect x="497.5" y="292.5" width="3" height="4" fill="#fff" stroke="#1a1a1a" stroke-width="0.95"/>
<line x1="428.9" y1="190.5" x2="451.8" y2="190.5" stroke="#1a1a1a" stroke-width="1.1"/>
<rect x="438.5" y="188.5" width="4" height="4" fill="#fff" stroke="#1a1a1a" stroke-width="0.95"/>
<text x="454.5" y="191.5" font-family="'Liberation Sans', sans-serif" font-size="9.4" font-weight="bold" text-anchor="start" textLength="54.4" lengthAdjust="spacingAndGlyphs" >L1210 (Fas+)</text>
<line x1="428.9" y1="206.2" x2="451.8" y2="206.2" stroke="#1a1a1a" stroke-width="1.2" stroke-dasharray="1.4 2.8"/>
<path d="M440.35 203.1 L442.35 207.5 L438.35 207.5 Z" fill="#fff" stroke="#1a1a1a" stroke-width="0.9"/>
<text x="454.5" y="207.1" font-family="'Liberation Sans', sans-serif" font-size="9.4" font-weight="bold" text-anchor="start" textLength="52.4" lengthAdjust="spacingAndGlyphs" >L1210 (Fas-)</text>
<text transform="translate(10.3,241.6) rotate(-90)" font-family="'Liberation Serif', serif" font-size="12.4" font-weight="bold" class="sf" textLength="79.6" lengthAdjust="spacingAndGlyphs">% Cytotoxicity</text>
<text transform="translate(10.3,158.3) rotate(-90)" font-family="'Liberation Serif', serif" font-size="12.4" font-weight="bold" class="sf" textLength="4" lengthAdjust="spacingAndGlyphs">(</text>
<text transform="translate(6.5,154.9) rotate(-90)" font-family="'Liberation Serif', serif" font-size="7.6" font-weight="bold" class="" textLength="5.6" lengthAdjust="spacingAndGlyphs">51</text>
<text transform="translate(10.3,146.6) rotate(-90)" font-family="'Liberation Serif', serif" font-size="12.4" font-weight="bold" class="sf" textLength="60.3" lengthAdjust="spacingAndGlyphs">Cr-release)</text>
<text x="250" y="362.6" font-family="'Liberation Serif', sans-serif" font-size="12.4" font-weight="bold" text-anchor="start" textLength="52.8" lengthAdjust="spacingAndGlyphs" class="sf">E:T Ratio</text>
</g>
</svg>
</body></html>
